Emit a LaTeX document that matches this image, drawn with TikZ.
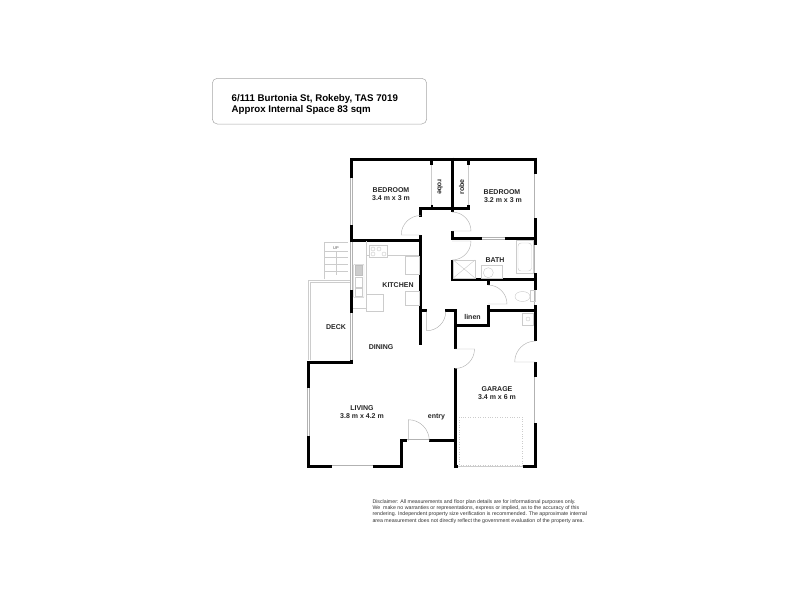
\documentclass[tikz,border=0pt]{standalone}
\usepackage{fontspec}
\setmainfont{Liberation Sans}
\tikzset{
	wall/.style={draw=black, line width=3pt},
	glazing/.style={draw=gray!60, line width=0.45pt, double=white, double distance=1.6pt},
	swing/.style={draw=gray!60, line width=0.45pt},
	fixture/.style={draw=gray!40, line width=0.45pt},
	roomlabel/.style={font=\fontsize{7}{8}\selectfont\bfseries, inner sep=0pt, align=center, text=black!85},
	smalllabel/.style={font=\fontsize{7}{8}\selectfont\bfseries, inner sep=0pt, text=black!85},
	tinylabel/.style={font=\fontsize{4}{5}\selectfont, inner sep=0pt, text=black!70},
	noteline/.style={font=\fontsize{5.25}{6}\selectfont, inner sep=0pt, anchor=base west, text=black!80},
	titleline/.style={font=\fontsize{9.7}{12}\selectfont\bfseries, inner sep=0pt, anchor=base west}
}
\begin{document}
\begin{tikzpicture}[x=1pt, y=-1pt]
	\useasboundingbox (0,0) rectangle (800,600);

	\node at (212.3,78.3) [coordinate] (t1) {};
	\node at (426.7,124) [coordinate] (t2) {};
	\draw [draw=gray!70, line width=0.5pt, rounded corners=5pt] (t1) rectangle (t2);
	\node at (231.5,101.2) [titleline] (title1) {6/111 Burtonia St, Rokeby, TAS 7019};
	\node at (231.5,112.2) [titleline] (title2) {Approx Internal Space 83 sqm};

	\draw [glazing] (351.5,178) -- (351.5,225);
	\draw [glazing] (351.5,241) -- (351.5,290);
	\draw [glazing] (351.5,313) -- (351.5,360);
	\draw [glazing] (535.7,174) -- (535.7,218);
	\draw [glazing] (535.7,245) -- (535.7,273);
	\draw [glazing] (535.7,290) -- (535.7,305);
	\draw [glazing] (535.7,377) -- (535.7,423);
	\draw [glazing] (481.7,238.3) -- (505,238.3);
	\draw [glazing] (308.5,388) -- (308.5,436);
	\draw [glazing] (331.7,466.7) -- (372.7,466.7);
	\draw [glazing] (407.3,440.7) -- (429,440.7);
	\draw [fixture] (458,466.7) -- (522.7,466.7);

	\draw [wall] (351.5,178) -- (351.5,157.7);
	\draw [wall] (350,159) -- (537.2,159);
	\draw [wall] (535.7,157.7) -- (535.7,174);
	\draw [wall] (535.7,218) -- (535.7,245);
	\draw [wall] (535.7,273) -- (535.7,290);
	\draw [wall] (535.7,305) -- (535.7,341);
	\draw [wall] (535.7,362) -- (535.7,377);
	\draw [wall] (535.7,423) -- (535.7,468.2);
	\draw [wall] (537.2,466.7) -- (522.7,466.7);
	\draw [wall] (458,466.7) -- (453.5,466.7);
	\draw [wall] (455,468.2) -- (455,368);
	\draw [wall] (455,349) -- (455,309.2);
	\draw [wall] (445,310.7) -- (456.5,310.7);
	\draw [wall] (455,325) -- (489.5,325);
	\draw [wall] (488,326.5) -- (488,305);
	\draw [wall] (488,310.7) -- (537,310.7);
	\draw [wall] (452,279.5) -- (537,279.5);
	\draw [wall] (452,281) -- (452,260);
	\draw [wall] (488,280) -- (488,285);
	\draw [wall] (452,231) -- (452,239.8);
	\draw [wall] (452,238.3) -- (481.7,238.3);
	\draw [wall] (505,238.3) -- (537,238.3);
	\draw [wall] (420.5,216.7) -- (420.5,206.8);
	\draw [wall] (419,208.3) -- (470,208.3);
	\draw [wall] (468.3,209.8) -- (468.3,204.5);
	\draw [wall] (452,157.7) -- (452,212);
	\draw [wall] (431.7,159) -- (431.7,165);
	\draw [line width=2pt] (431.7,204.5) -- (431.7,208);
	\draw [wall] (468.3,159) -- (468.3,165);
	\draw [wall] (351.5,225) -- (351.5,242.2);
	\draw [wall] (350,240.7) -- (422,240.7);
	\draw [wall] (420.5,235) -- (420.5,345);
	\draw [wall] (420.5,310.7) -- (426.5,310.7);
	\draw [wall] (351.5,290) -- (351.5,313);
	\draw [wall] (351,359.5) -- (351,364.2);
	\draw [wall] (352.5,362.7) -- (307,362.7);
	\draw [wall] (308.5,361.2) -- (308.5,388);
	\draw [wall] (308.5,436) -- (308.5,468.2);
	\draw [wall] (307,466.7) -- (331.7,466.7);
	\draw [wall] (372.7,466.7) -- (403.2,466.7);
	\draw [wall] (401.7,468.2) -- (401.7,439.2);
	\draw [wall] (400.2,440.7) -- (407.3,440.7);
	\draw [wall] (429,440.7) -- (456.5,440.7);

	\draw [swing] (420.7,235) -- (401.2,235) arc [start angle=180, end angle=90, radius=19.5pt];
	\draw [swing] (452,231) -- (471,231) arc [start angle=0, end angle=90, radius=19pt];
	\draw [swing] (452,260) arc [start angle=270, end angle=360, radius=19pt] -- (452,241);
	\draw [swing] (488,285) arc [start angle=90, end angle=0, radius=19pt] -- (488,304);
	\draw [swing] (426.7,311.7) -- (426.7,330.7) arc [start angle=270, end angle=360, radius=19pt];
	\draw [swing] (455,349) -- (474.5,349) arc [start angle=0, end angle=-90, radius=19.5pt];
	\draw [swing] (535.7,341) arc [start angle=90, end angle=180, radius=21pt] -- (535.7,362);
	\draw [swing] (408.3,440.7) -- (408.3,419.7) arc [start angle=90, end angle=0, radius=21pt];

	\draw [fixture] (431.7,165) -- (431.7,204.5);
	\draw [fixture] (468.3,165) -- (468.3,204.5);

	\draw [fixture] (324.3,279) -- (324.3,242.3) -- (348,242.3);
	\draw [fixture] (324.3,251.7) -- (348,251.7);
	\draw [fixture] (324.3,257.7) -- (348,257.7);
	\draw [fixture] (324.3,264.3) -- (348,264.3);
	\draw [fixture] (324.3,271) -- (348,271);
	\draw [fixture] (336,252) -- (336,275);
	\node at (336,248) [tinylabel] (up) {UP};
	\draw [fixture] (308,360) -- (308,280) -- (350,280);
	\draw [fixture] (310,360) -- (310,282) -- (350,282);

	\draw [fixture] (366.7,241) -- (366.7,308) -- (353,308);
	\draw [fixture] (366.7,255) -- (369.3,255);
	\draw [fixture] (387.3,255) -- (419,255);
	\draw [fixture, fill=white] (369.3,245.7) rectangle (387.3,257);
	\draw [fixture] (373,249) circle (2pt);
	\draw [fixture] (379,249) circle (2pt);
	\draw [fixture] (373,254) circle (2pt);
	\draw [fixture] (384,254) circle (2pt);
	\draw [fixture, fill=white] (405,256.7) rectangle (419,274.3);
	\draw [fixture, fill=white] (405,291) rectangle (419,305.7);
	\draw [fixture, fill=white] (366.7,294.3) rectangle (383.3,311);
	\draw [fixture, rounded corners=1pt] (353.3,264.3) rectangle (364,297.7);
	\draw [fill=gray!40, draw=gray!50, line width=0.4pt] (355,265) rectangle (362,275);
	\draw [fixture] (355,277) rectangle (362,287);
	\draw [fixture] (355,288) rectangle (362,296);

	\draw [fixture] (516,240.7) rectangle (533.3,273.3);
	\draw [fixture, rounded corners=3pt] (518,243) rectangle (531.5,271);
	\draw [fixture] (453.3,260) rectangle (475,278);
	\draw [fixture] (453.3,260) -- (475,278);
	\draw [fixture] (453.3,278) -- (475,260);
	\draw [fixture] (481.7,265.7) rectangle (502.3,278);
	\draw [fixture] (488.3,272.7) circle (5pt);
	\draw [fixture] (530,290) rectangle (535,301.7);
	\draw [fixture] (522.5,296.5) ellipse (7.5pt and 5pt);
	\draw [fixture] (522.7,313) rectangle (533.3,325);
	\draw [fixture] (528,319) circle (2pt);

	\draw [fixture, dotted] (459.3,417.3) rectangle (522.7,465);

	\node at (391,190) [roomlabel] (bedroomleft) {BEDROOM};
	\node at (391,198) [roomlabel] (sizeleft) {3.4 m x 3 m};
	\node at (502,192) [roomlabel] (bedroomright) {BEDROOM};
	\node at (503,200) [roomlabel] (sizeright) {3.2 m x 3 m};
	\node at (440,187) [smalllabel, rotate=-90] (robeleft) {robe};
	\node at (461.7,187) [smalllabel, rotate=90] (roberight) {robe};
	\node at (495,260) [roomlabel] (bath) {BATH};
	\node at (398,285) [roomlabel] (kitchen) {KITCHEN};
	\node at (336,327) [roomlabel] (deck) {DECK};
	\node at (381,347) [roomlabel] (dining) {DINING};
	\node at (362,408) [roomlabel] (living) {LIVING};
	\node at (362,416) [roomlabel] (sizeliving) {3.8 m x 4.2 m};
	\node at (497,389) [roomlabel] (garage) {GARAGE};
	\node at (497,397) [roomlabel] (sizegarage) {3.4 m x 6 m};
	\node at (436.5,416.5) [smalllabel] (entry) {entry};
	\node at (472.5,317) [smalllabel] (linen) {linen};

	\node at (372.3,503.5) [noteline] (note1) {Disclaimer: All measurements and floor plan details are for informational purposes only.};
	\node at (372.3,509.5) [noteline] (note2) {We\ \ make no warranties or representations, express or implied, as to the accuracy of this};
	\node at (372.3,515.8) [noteline] (note3) {rendering. Independent property size verification is recommended. The approximate internal};
	\node at (372.3,522) [noteline] (note4) {area measurement does not directly reflect the government evaluation of the property area.};
\end{tikzpicture}
\end{document}
